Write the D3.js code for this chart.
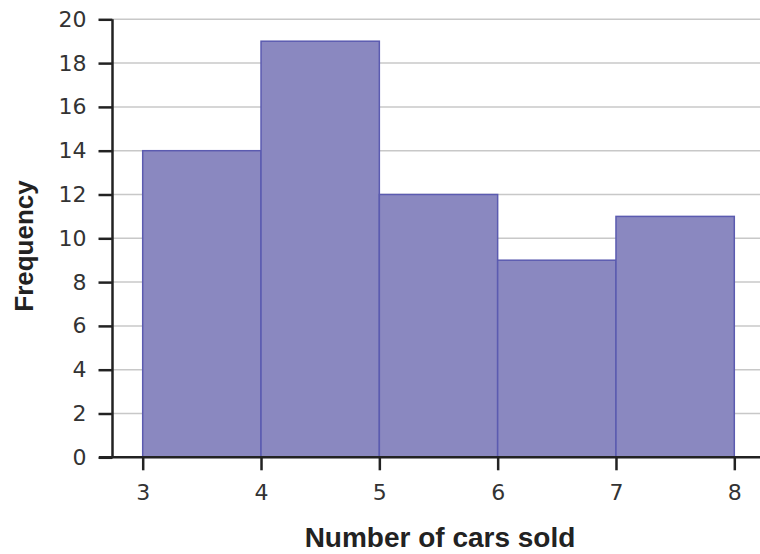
<!DOCTYPE html>
<html><head><meta charset="utf-8">
<script src="https://cdn.jsdelivr.net/npm/d3@7"></script>
<style>body{margin:0;background:#fff}svg{display:block}</style>
</head><body>
<svg id="c" width="760" height="554"></svg>
<script>
const binStarts = [3, 4, 5, 6, 7];
const binEnds = [4, 5, 6, 7, 8];
const frequencies = [14, 19, 12, 9, 11];
const xTicks = [3, 4, 5, 6, 7, 8];
const yTicks = [0, 2, 4, 6, 8, 10, 12, 14, 16, 18, 20];

const svg = d3.select("#c");
const x = d3.scaleLinear().domain([3, 8]).range([142.7, 734.3]);
const y = d3.scaleLinear().domain([0, 20]).range([457.3, 19.3]);
const font = "'Liberation Sans', Arial, sans-serif";
const tickFont = "'DejaVu Sans', sans-serif";

// gridlines
svg.append("g").selectAll("line").data(yTicks.filter(d => d > 0)).join("line")
  .attr("x1", 113).attr("x2", 760)
  .attr("y1", d => y(d)).attr("y2", d => y(d))
  .attr("stroke", "#c8c8c8").attr("stroke-width", 1.5);

// bars
svg.append("g").selectAll("rect").data(frequencies).join("rect")
  .attr("x", (d, i) => x(binStarts[i]))
  .attr("width", (d, i) => x(binEnds[i]) - x(binStarts[i]))
  .attr("y", d => y(d))
  .attr("height", d => y(0) - y(d))
  .attr("fill", "#8a88c0").attr("stroke", "#5b5bb0").attr("stroke-width", 1.5);

// y axis
const yAxis = svg.append("g").attr("transform", "translate(112.5,0)")
  .call(d3.axisLeft(y).tickValues(yTicks).tickFormat(d3.format("d")).tickSize(14).tickPadding(12));
yAxis.select(".domain").attr("stroke", "#222").attr("stroke-width", 2.5).attr("d", `M0,${y(20)}V${y(0)}`);
yAxis.selectAll(".tick line").attr("stroke", "#222").attr("stroke-width", 2.5);
yAxis.selectAll(".tick text").attr("font-family", tickFont).attr("font-size", 22).attr("fill", "#333");

// x axis
const xAxis = svg.append("g").attr("transform", `translate(0,${y(0)})`)
  .call(d3.axisBottom(x).tickValues(xTicks).tickFormat(d3.format("d")).tickSize(13).tickPadding(14));
xAxis.select(".domain").attr("stroke", "#222").attr("stroke-width", 2.5).attr("d", "M99,0H760");
xAxis.selectAll(".tick line").attr("stroke", "#222").attr("stroke-width", 2.5);
xAxis.selectAll(".tick text").attr("font-family", tickFont).attr("font-size", 22).attr("fill", "#333");

// axis titles
svg.append("text").attr("x", 440).attr("y", 547).attr("text-anchor", "middle")
  .attr("font-family", font).attr("font-size", 28).attr("font-weight", "bold").attr("fill", "#222")
  .text("Number of cars sold");
svg.append("text").attr("transform", "translate(33,246) rotate(-90)").attr("text-anchor", "middle")
  .attr("font-family", font).attr("font-size", 26).attr("font-weight", "bold").attr("fill", "#222")
  .text("Frequency");
</script>
</body></html>
